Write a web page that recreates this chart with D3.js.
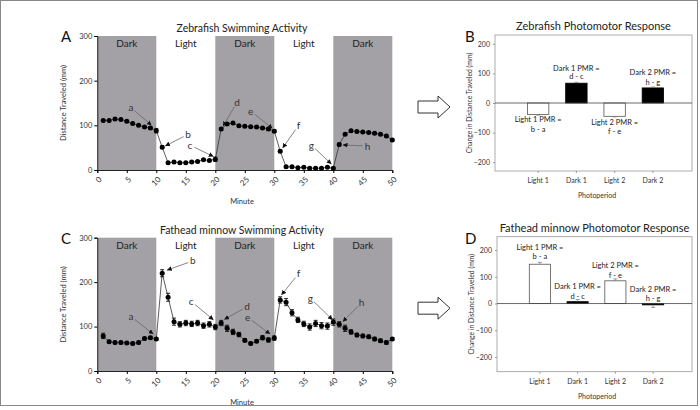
<!DOCTYPE html>
<html>
<head>
<meta charset="utf-8">
<script src="https://cdn.jsdelivr.net/npm/d3@7"></script>
<style>
  body { margin: 0; background: #fff; }
  svg { font-family: Lato, "Open Sans", sans-serif; }
</style>
</head>
<body>
<svg id="fig" width="700" height="410"></svg>
<script>
// minutes 1..50
const minutes = d3.range(1, 51);
const minuteTicks = [0, 5, 10, 15, 20, 25, 30, 35, 40, 45, 50];

const zebraMean = [111, 111, 114, 113, 109, 104, 100, 96, 94, 88,
                   51, 16, 18, 16, 16, 18, 19, 23, 21, 24,
                   92, 103, 105, 99, 98, 97, 96, 94, 92, 87,
                   42, 7, 7, 5, 6, 4, 4, 4, 6, 4,
                   57, 80, 88, 86, 85, 84, 82, 80, 76, 67];
const zebraErr = [2, 2, 2, 2, 2, 2, 2, 2, 3, 5,
                  3, 2, 2, 2, 2, 2, 2, 2, 2, 5,
                  3, 3, 2, 2, 2, 2, 2, 2, 3, 3,
                  3, 2, 2, 2, 2, 2, 2, 2, 2, 2,
                  3, 2, 2, 2, 2, 2, 2, 2, 2, 2];

const minnowMean = [79, 66, 64, 64, 63, 62, 64, 73, 75, 72,
                    220, 166, 111, 105, 108, 106, 108, 102, 105, 99,
                    108, 96, 88, 82, 69, 62, 67, 75, 70, 74,
                    160, 155, 131, 115, 106, 99, 107, 102, 101, 110,
                    105, 96, 88, 81, 79, 77, 72, 68, 64, 72];
const minnowErr = [6, 3, 3, 3, 3, 3, 3, 3, 3, 3,
                   8, 9, 8, 6, 6, 6, 6, 6, 6, 6,
                   6, 7, 6, 5, 4, 3, 3, 5, 5, 5,
                   7, 8, 7, 6, 6, 7, 7, 7, 7, 7,
                   6, 7, 5, 4, 4, 4, 4, 4, 4, 3];

const darkPeriods = [[0, 10], [20, 30], [40, 50]];
const periodLabels = [
  {t: 'Dark', m: 5}, {t: 'Light', m: 15}, {t: 'Dark', m: 25},
  {t: 'Light', m: 35}, {t: 'Dark', m: 45}
];

// annotation letters: text position and arrow tip in data units
const zebraNotes = [
  {t: 'a', tx: 5.7, ty: 133, ax: 9.2, ay: 100},
  {t: 'b', tx: 15.4, ty: 73, ax: 11.5, ay: 54},
  {t: 'c', tx: 15.7, ty: 49, ax: 19.7, ay: 30},
  {t: 'd', tx: 23.7, ty: 145, ax: 21.3, ay: 98},
  {t: 'e', tx: 26, ty: 125, ax: 29.7, ay: 93},
  {t: 'f', tx: 34.1, ty: 93, ax: 31.4, ay: 49},
  {t: 'g', tx: 36.3, ty: 49, ax: 39.7, ay: 13},
  {t: 'h', tx: 45.8, ty: 47, ax: 41.6, ay: 56}
];
const minnowNotes = [
  {t: 'a', tx: 5.7, ty: 116, ax: 9.5, ay: 83},
  {t: 'b', tx: 16.2, ty: 241, ax: 11.8, ay: 227},
  {t: 'c', tx: 15.9, ty: 150, ax: 19.7, ay: 115},
  {t: 'd', tx: 25.4, ty: 138, ax: 21.5, ay: 116},
  {t: 'e', tx: 25.5, ty: 114, ax: 29.3, ay: 83},
  {t: 'f', tx: 34.1, ty: 212, ax: 31.2, ay: 171},
  {t: 'g', tx: 36.1, ty: 157, ax: 39.9, ay: 115},
  {t: 'h', tx: 44.8, ty: 147, ax: 41.6, ay: 111}
];

const periods = ['Light 1', 'Dark 1', 'Light 2', 'Dark 2'];
const zebraPMR = [-39, 67, -45, 51];
const zebraPMRErr = [2, 3, 2, 3];
const minnowPMR = [147, 7, 85, -5];
const minnowPMRErr = [7, 8, 7, 10];
const pmrLabels = ['Light 1 PMR =', 'Dark 1 PMR =', 'Light 2 PMR =', 'Dark 2 PMR ='];
const pmrFormulas = ['b - a', 'd - c', 'f - e', 'h - g'];
// label heights in data units [line1, line2]
const zebraLabelY = [[-56, -90], [116, 89], [-65, -97], [103, 69]];
const minnowLabelY = [[210, 175], [65, 27], [141, 106], [52, 19]];

const svg = d3.select('#fig');

svg.append('rect')
  .attr('x', 0.5).attr('y', 0.5)
  .attr('width', 697).attr('height', 405)
  .attr('fill', 'none').attr('stroke', '#888');

svg.append('defs').append('marker')
  .attr('id', 'tip')
  .attr('viewBox', '0 0 10 10')
  .attr('refX', 10).attr('refY', 5)
  .attr('markerWidth', 6).attr('markerHeight', 6)
  .attr('orient', 'auto')
  .append('path')
  .attr('d', 'M0,0L10,5L0,10Z')
  .attr('fill', '#111');

function activityPanel(opt) {
  const x = d3.scaleLinear().domain([0, 50]).range([97.3, 392.3]);
  const y = d3.scaleLinear().domain([0, 300]).range([opt.bottom, opt.top]);
  const g = svg.append('g');

  g.selectAll('.dark')
    .data(darkPeriods)
    .enter()
    .append('rect')
    .attr('x', d => x(d[0]))
    .attr('y', y(300))
    .attr('width', d => x(d[1]) - x(d[0]))
    .attr('height', y(0) - y(300))
    .attr('fill', '#a3a1a6');

  g.selectAll('.plabel')
    .data(periodLabels)
    .enter()
    .append('text')
    .attr('x', d => x(d.m))
    .attr('y', y(300) + 11)
    .attr('text-anchor', 'middle')
    .attr('font-size', 10)
    .attr('fill', '#222')
    .text(d => d.t);

  const yAxis = d3.axisLeft(y).tickValues([0, 100, 200, 300]).tickSize(3).tickPadding(2);
  g.append('g')
    .attr('transform', `translate(${x(0)},0)`)
    .call(yAxis)
    .call(a => a.selectAll('text').attr('font-size', 7.5).attr('fill', '#333').attr('font-family', 'Lato'));

  const xAxis = d3.axisBottom(x).tickValues(minuteTicks).tickSize(3).tickFormat('');
  g.append('g')
    .attr('transform', `translate(0,${y(0)})`)
    .call(xAxis);
  g.selectAll('.domain').attr('stroke', '#222');

  // rotated minute labels (nested group holds the rotation)
  g.selectAll('.mlabel')
    .data(minuteTicks)
    .enter()
    .append('g')
    .attr('transform', d => `translate(${x(d) + 3},${y(0) + 8})`)
    .append('g')
    .attr('transform', 'rotate(-45)')
    .append('text')
    .attr('text-anchor', 'end')
    .attr('dy', '0.35em')
    .attr('font-size', 8)
    .attr('fill', '#333')
    .text(d => d);

  const data = minutes.map((m, i) => ({m, v: opt.mean[i], e: opt.err[i]}));

  g.append('path')
    .datum(data)
    .attr('fill', 'none')
    .attr('stroke', '#333')
    .attr('stroke-width', 0.8)
    .attr('d', d3.line().x(d => x(d.m)).y(d => y(d.v)));

  const eb = g.selectAll('.err').data(data).enter().append('g').attr('stroke', '#111').attr('stroke-width', 0.9);
  eb.append('line')
    .attr('x1', d => x(d.m)).attr('x2', d => x(d.m))
    .attr('y1', d => y(d.v - d.e)).attr('y2', d => y(d.v + d.e));
  eb.append('line')
    .attr('x1', d => x(d.m) - 2).attr('x2', d => x(d.m) + 2)
    .attr('y1', d => y(d.v + d.e)).attr('y2', d => y(d.v + d.e));
  eb.append('line')
    .attr('x1', d => x(d.m) - 2).attr('x2', d => x(d.m) + 2)
    .attr('y1', d => y(d.v - d.e)).attr('y2', d => y(d.v - d.e));

  g.selectAll('.pt')
    .data(data)
    .enter()
    .append('circle')
    .attr('cx', d => x(d.m))
    .attr('cy', d => y(d.v))
    .attr('r', 2.5)
    .attr('fill', '#000');

  // arrows and letters
  opt.notes.forEach(n => {
    const x0 = x(n.tx), y0 = y(n.ty) - 3, x1 = x(n.ax), y1 = y(n.ay);
    const dx = x1 - x0, dy = y1 - y0, len = Math.hypot(dx, dy);
    g.append('line')
      .attr('x1', x0 + dx / len * 5).attr('y1', y0 + dy / len * 5)
      .attr('x2', x1).attr('y2', y1)
      .attr('stroke', '#666').attr('stroke-width', 0.8)
      .attr('marker-end', 'url(#tip)');
    g.append('text')
      .attr('x', x0).attr('y', y0 + 3.5)
      .attr('text-anchor', 'middle')
      .attr('font-size', 10)
      .attr('fill', '#333')
      .text(n.t);
  });

  g.append('text')
    .attr('x', 242).attr('y', opt.top - 4)
    .attr('text-anchor', 'middle')
    .attr('font-size', 10.5)
    .attr('fill', '#222')
    .text(opt.title);

  g.append('text')
    .attr('x', 242).attr('y', opt.bottom + 34)
    .attr('text-anchor', 'middle')
    .attr('font-size', 7.5)
    .attr('fill', '#333')
    .text('Minute');

  g.append('text')
    .attr('transform', `translate(66,${(opt.top + opt.bottom) / 2}) rotate(-90)`)
    .attr('text-anchor', 'middle')
    .attr('font-size', 7.5)
    .attr('fill', '#333')
    .text('Distance Traveled (mm)');

  g.append('text')
    .attr('x', 61).attr('y', opt.top + 6)
    .attr('font-size', 15)
    .attr('fill', '#111')
    .text(opt.letter);
}

function pmrPanel(opt) {
  const x = d3.scaleBand().domain(periods).range([opt.left + 24, opt.right - 20])
    .paddingInner(0.44).paddingOuter(0.22);
  const y = d3.scaleLinear().domain(opt.domain).range([opt.bottom, opt.top]);
  const g = svg.append('g');

  g.append('rect')
    .attr('x', opt.left).attr('y', opt.top)
    .attr('width', opt.right - opt.left).attr('height', opt.bottom - opt.top)
    .attr('fill', 'none').attr('stroke', '#999').attr('stroke-width', 0.8);

  const yAxis = d3.axisLeft(y).tickValues([-200, -100, 0, 100, 200]).tickSize(2).tickPadding(3);
  g.append('g')
    .attr('transform', `translate(${opt.left},0)`)
    .call(yAxis)
    .call(a => a.select('.domain').remove())
    .call(a => a.selectAll('line').attr('stroke', '#999'))
    .call(a => a.selectAll('text').attr('font-size', 7).attr('fill', '#333').attr('font-family', 'Lato'));

  const xAxis = d3.axisBottom(x).tickSize(2).tickPadding(5);
  g.append('g')
    .attr('transform', `translate(0,${opt.bottom})`)
    .call(xAxis)
    .call(a => a.select('.domain').remove())
    .call(a => a.selectAll('line').attr('stroke', '#999'))
    .call(a => a.selectAll('text').attr('font-size', 7).attr('fill', '#333').attr('font-family', 'Lato'));

  const data = periods.map((p, i) => ({p, v: opt.values[i], e: opt.errs[i], i}));

  g.selectAll('.bar')
    .data(data)
    .enter()
    .append('rect')
    .attr('x', d => x(d.p))
    .attr('width', x.bandwidth())
    .attr('y', d => y(Math.max(0, d.v)))
    .attr('height', d => Math.abs(y(d.v) - y(0)))
    .attr('fill', d => d.p.startsWith('Dark') ? '#000' : '#fff')
    .attr('stroke', d => d.p.startsWith('Dark') ? '#000' : '#555')
    .attr('stroke-width', 0.8);

  const eb = g.selectAll('.err').data(data).enter().append('g').attr('stroke', '#777').attr('stroke-width', 0.7);
  eb.append('line')
    .attr('x1', d => x(d.p) + x.bandwidth() / 2).attr('x2', d => x(d.p) + x.bandwidth() / 2)
    .attr('y1', d => y(d.v)).attr('y2', d => y(d.v + Math.sign(d.v) * d.e));
  eb.append('line')
    .attr('x1', d => x(d.p) + x.bandwidth() / 2 - 2).attr('x2', d => x(d.p) + x.bandwidth() / 2 + 2)
    .attr('y1', d => y(d.v + Math.sign(d.v) * d.e)).attr('y2', d => y(d.v + Math.sign(d.v) * d.e));

  g.append('line')
    .attr('x1', opt.left).attr('x2', opt.right)
    .attr('y1', y(0)).attr('y2', y(0))
    .attr('stroke', '#444').attr('stroke-width', 0.8);

  data.forEach(d => {
    const cx = x(d.p) + x.bandwidth() / 2;
    g.append('text')
      .attr('x', cx).attr('y', y(opt.labelY[d.i][0])).attr('dy', '0.35em')
      .attr('text-anchor', 'middle').attr('font-size', 7.5).attr('fill', '#222')
      .text(pmrLabels[d.i]);
    g.append('text')
      .attr('x', cx).attr('y', y(opt.labelY[d.i][1])).attr('dy', '0.35em')
      .attr('text-anchor', 'middle').attr('font-size', 7.5).attr('fill', '#222')
      .text(pmrFormulas[d.i]);
  });

  g.append('text')
    .attr('x', (opt.left + opt.right) / 2).attr('y', opt.top - 5)
    .attr('text-anchor', 'middle')
    .attr('font-size', 11)
    .attr('fill', '#222')
    .text(opt.title);

  g.append('text')
    .attr('x', 597).attr('y', opt.bottom + 27)
    .attr('text-anchor', 'middle')
    .attr('font-size', 7)
    .attr('fill', '#333')
    .text('Photoperiod');

  g.append('text')
    .attr('transform', `translate(${opt.left - 23},${(opt.top + opt.bottom) / 2}) rotate(-90)`)
    .attr('text-anchor', 'middle')
    .attr('font-size', 6.8)
    .attr('fill', '#333')
    .text('Change in Distance Traveled (mm)');

  g.append('text')
    .attr('x', 465).attr('y', opt.top + 7)
    .attr('font-size', 15)
    .attr('fill', '#111')
    .text(opt.letter);

  // hollow arrow between panels
  const ay = (opt.top + opt.bottom) / 2 + 4;
  g.append('path')
    .attr('d', `M418,${ay - 6}H438V${ay - 11}L450,${ay}L438,${ay + 11}V${ay + 6}H418Z`)
    .attr('fill', '#fff')
    .attr('stroke', '#333')
    .attr('stroke-width', 1);
}

activityPanel({top: 36, bottom: 170, mean: zebraMean, err: zebraErr, notes: zebraNotes,
  title: 'Zebrafish Swimming Activity', letter: 'A'});
activityPanel({top: 237.7, bottom: 371, mean: minnowMean, err: minnowErr, notes: minnowNotes,
  title: 'Fathead minnow Swimming Activity', letter: 'C'});

pmrPanel({left: 495, right: 692, top: 35, bottom: 171, domain: [-230, 230],
  values: zebraPMR, errs: zebraPMRErr, labelY: zebraLabelY,
  title: 'Zebrafish Photomotor Response', letter: 'B'});
pmrPanel({left: 497, right: 692, top: 236.7, bottom: 371.7, domain: [-255, 250],
  values: minnowPMR, errs: minnowPMRErr, labelY: minnowLabelY,
  title: 'Fathead minnow Photomotor Response', letter: 'D'});
</script>
</body>
</html>
